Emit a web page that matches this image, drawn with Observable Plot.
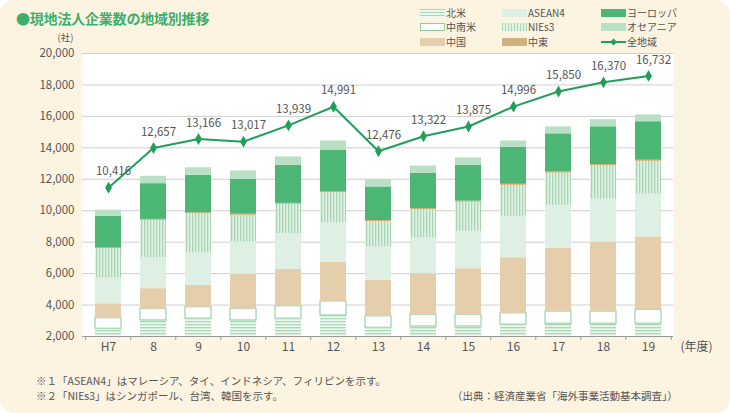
<!DOCTYPE html>
<html><head><meta charset="utf-8">
<script src="https://cdn.jsdelivr.net/npm/d3@7"></script>
<script src="https://cdn.jsdelivr.net/npm/@observablehq/plot@0.6"></script>
<style>
body{margin:0;background:#fff;}
#wrap{position:relative;width:730px;height:413px;background:#fdf3e1;border-radius:14px;overflow:hidden;font-family:"Noto Sans CJK JP","Noto Sans",sans-serif;color:#555;}
#header{position:relative;height:36px;z-index:2;}
#title{position:absolute;left:16px;top:8px;font-size:14px;font-weight:bold;color:#3fae6c;letter-spacing:-0.2px;}
.lg{position:absolute;font-size:10px;display:flex;align-items:center;height:12px;line-height:12px;white-space:nowrap;}
.sw{width:25px;height:8px;margin-right:1px;box-sizing:border-box;}
#chart{height:326px;}
#footer{position:relative;height:51px;font-size:10.5px;}
#footer div{position:absolute;white-space:nowrap;}
</style></head>
<body>
<div id="wrap">
  <div id="header">
    <div id="title">●現地法人企業数の地域別推移</div>
    <div id="legend"></div>
  </div>
  <div id="chart"></div>
  <div id="footer">
    <div style="left:36px;top:11px;">※１「ASEAN4」はマレーシア、タイ、インドネシア、フィリピンを示す。</div>
    <div style="left:36px;top:26px;">※２「NIEs3」はシンガポール、台湾、韓国を示す。</div>
    <div style="left:452px;top:26px;">（出典：経済産業省「海外事業活動基本調査」）</div>
  </div>
</div>
<script>
// ---- data ----
const years = ["H7","8","9","10","11","12","13","14","15","16","17","18","19"];
const regions = ["北米","中南米","中国","ASEAN4","NIEs3","中東","ヨーロッパ","オセアニア"];
const northAmerica = [2490,3020,3130,3020,3130,3340,2550,2640,2640,2750,2810,2810,2810];
const latinAmerica = [680,740,740,740,800,890,740,740,740,730,780,780,890];
const china        = [910,1280,1380,2190,2340,2500,2280,2610,2930,3530,4030,4420,4630];
const asean4       = [1630,1970,2060,2060,2270,2490,2120,2270,2380,2630,2720,2720,2720];
const nies3        = [1890,2380,2500,1700,1870,1930,1630,1810,1860,1980,2060,2140,2100];
const middleEast   = [60,60,60,70,60,60,60,60,60,60,60,60,60];
const europe       = [1990,2270,2380,2220,2420,2650,2130,2240,2280,2340,2430,2410,2450];
const oceania      = [385,470,480,530,530,570,470,470,470,420,440,450,430];
const totals       = [10416,12657,13166,13017,13939,14991,12476,13322,13875,14996,15850,16370,16732];
const yTicks = [2000,4000,6000,8000,10000,12000,14000,16000,18000,20000];
const unitLabel = "(社)";
const yearLabel = "(年度)";

const series = [northAmerica, latinAmerica, china, asean4, nies3, middleEast, europe, oceania];
const fills = {"北米":"url(#pNA)","中南米":"#ffffff","中国":"#e5ceac","ASEAN4":"#deefe3","NIEs3":"url(#pNIE)","中東":"#d9a463","ヨーロッパ":"#4cb674","オセアニア":"#b9dfc4"};
const strokes = {"北米":"none","中南米":"#acdcb8","中国":"none","ASEAN4":"none","NIEs3":"none","中東":"none","ヨーロッパ":"none","オセアニア":"none"};
const lineColor = "#1f9f58";

const rows = [];
years.forEach((yr, i) => regions.forEach((r, j) => rows.push({year: yr, region: r, value: series[j][i]})));
const lineRows = years.map((yr, i) => ({year: yr, total: totals[i]}));
// the total line is drawn against its own (hidden) axis: 2,000–18,000 over the same height
const yLine = d3.scaleLinear([2000, 18000], [2000, 20000]);
const mL = 82, mR = 57;
const step = (730 - mL - mR) / years.length;

const chart = Plot.plot({
  width: 730, height: 326,
  marginLeft: mL, marginRight: mR, marginTop: 17, marginBottom: 26,
  style: {fontFamily: '"Noto Sans CJK JP","Noto Sans",sans-serif', fontSize: "11.5px", color: "#555", background: "transparent", overflow: "visible"},
  x: {domain: years, paddingInner: 0.43, paddingOuter: 0.215, label: null},
  y: {domain: [2000, 20000], label: null},
  color: {type: "identity"},
  marks: [
    Plot.frame({fill: "white", stroke: "none"}),
    Plot.ruleY(yTicks, {stroke: "#cfcfcf", strokeWidth: 1}),
    Plot.barY(rows, {x: "year", y: "value", z: "region", order: regions,
      fill: d => fills[d.region], stroke: d => strokes[d.region], strokeWidth: 1.5, clip: true}),
    Plot.ruleY([2000], {stroke: "#999"}),
    Plot.axisY({ticks: yTicks, tickSize: 0, tickPadding: 8, tickFormat: d3.format(","), label: null}),
    Plot.axisX({tickSize: 0, tickPadding: 6, label: null, fontSize: 12}),
    Plot.axisX({tickSize: 4, tickFormat: () => "", label: null, dx: -step / 2, stroke: "#999"}),
    Plot.axisX({ticks: [years[years.length - 1]], tickSize: 4, tickFormat: () => "", label: null, dx: step / 2, stroke: "#999"}),
    Plot.text([unitLabel], {text: d => d, frameAnchor: "top-left", dx: -17, dy: -15.5, textAnchor: "middle", lineAnchor: "middle", fontSize: 9.5}),
    Plot.text([yearLabel], {text: d => d, frameAnchor: "bottom-right", dx: 7, dy: 11, textAnchor: "start", lineAnchor: "middle", fontSize: 12}),
    Plot.line(lineRows, {x: "year", y: d => yLine(d.total), stroke: lineColor, strokeWidth: 2}),
    Plot.dot(lineRows, {x: "year", y: d => yLine(d.total), symbol: "diamond", r: 3.6, fill: lineColor}),
    Plot.text(lineRows, {x: "year", y: d => yLine(d.total), text: d => d3.format(",")(d.total), dx: 5, dy: -16, fontSize: 11.5, fill: "#555"})
  ]
});

const defs = d3.select(chart).append("defs");
const pNA = defs.append("pattern").attr("id", "pNA").attr("patternUnits", "userSpaceOnUse").attr("width", 4).attr("height", 3);
pNA.append("rect").attr("width", 4).attr("height", 3).attr("fill", "#eef7f0");
pNA.append("rect").attr("width", 4).attr("height", 1.3).attr("fill", "#a9d8b5");
const pNIE = defs.append("pattern").attr("id", "pNIE").attr("patternUnits", "userSpaceOnUse").attr("width", 3).attr("height", 4);
pNIE.append("rect").attr("width", 3).attr("height", 4).attr("fill", "#e3f2e7");
pNIE.append("rect").attr("width", 1.3).attr("height", 4).attr("fill", "#a5d6b1");
document.getElementById("chart").appendChild(chart);

// ---- legend ----
const legendItems = [
  {label: "北米", css: "background:repeating-linear-gradient(to bottom,#a9d8b5 0 1px,#eef7f0 1px 3px);", col: 0, row: 0},
  {label: "中南米", css: "background:#fff;border:1px solid #8fcf9f;", col: 0, row: 1},
  {label: "中国", css: "background:#e5ceac;", col: 0, row: 2},
  {label: "ASEAN4", css: "background:#deefe3;", col: 1, row: 0},
  {label: "NIEs3", css: "background:repeating-linear-gradient(to right,#a5d6b1 0 1px,#e3f2e7 1px 3px);", col: 1, row: 1},
  {label: "中東", css: "background:#cfb07f;", col: 1, row: 2},
  {label: "ヨーロッパ", css: "background:#4cb674;", col: 2, row: 0},
  {label: "オセアニア", css: "background:#b9dfc4;", col: 2, row: 1},
  {label: "全地域", line: true, col: 2, row: 2}
];
const colX = [420, 502, 601], rowY = [6.5, 21, 35.5];
const lg = document.getElementById("legend");
legendItems.forEach(it => {
  const el = document.createElement("div");
  el.className = "lg";
  el.style.left = colX[it.col] + "px";
  el.style.top = rowY[it.row] + "px";
  if (it.line) {
    el.innerHTML = `<svg width="25" height="10" style="margin-right:1px"><line x1="0" y1="5" x2="25" y2="5" stroke="${lineColor}" stroke-width="2"/><path d="M12.5 1.5 L16 5 L12.5 8.5 L9 5 Z" fill="${lineColor}"/></svg>${it.label}`;
  } else {
    el.innerHTML = `<div class="sw" style="${it.css}"></div>${it.label}`;
  }
  lg.appendChild(el);
});
</script>
</body></html>
